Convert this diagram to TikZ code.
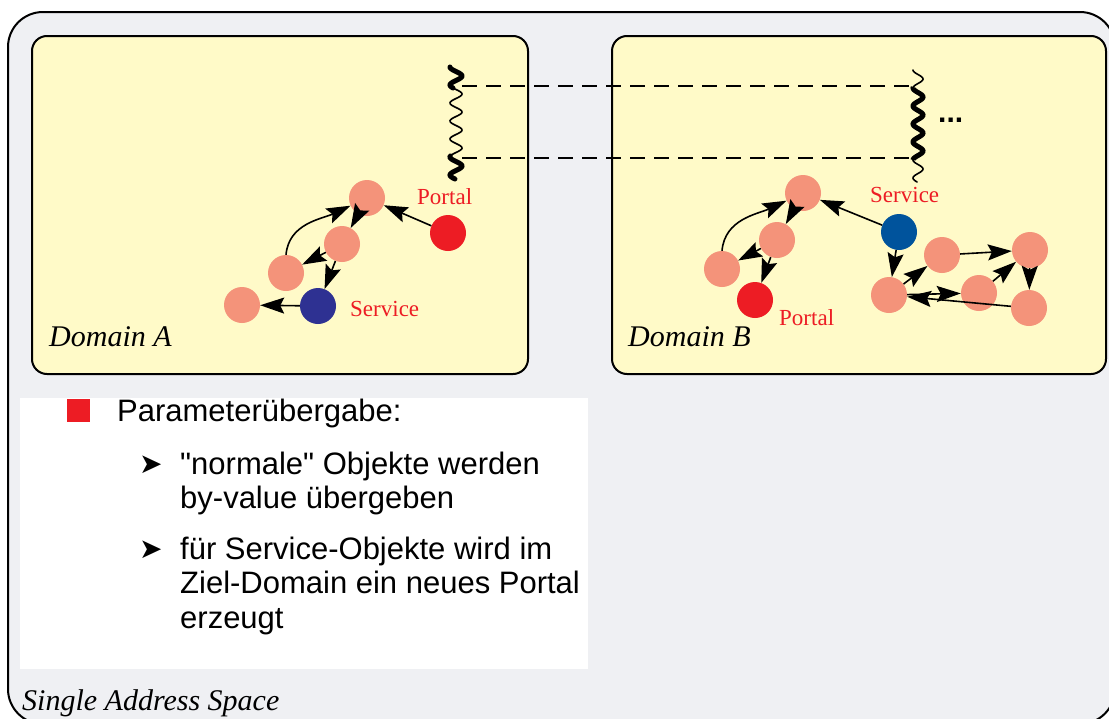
\documentclass[tikz,border=0pt]{standalone}
\usepackage{fontspec}
\setmainfont{Liberation Serif}
\setsansfont{Liberation Sans}
\newfontfamily\dejavu{DejaVu Sans}
\usetikzlibrary{arrows.meta}
\definecolor{bggray}{HTML}{EFF0F3}
\definecolor{domyel}{HTML}{FFFAC8}
\definecolor{salmon}{HTML}{F4937A}
\definecolor{portred}{HTML}{ED1C24}
\definecolor{servblueA}{HTML}{2E3192}
\definecolor{servblueB}{HTML}{00539C}
\tikzset{
  outerbox/.style={draw=black, line width=2pt, fill=bggray, rounded corners=35pt},
  domainbox/.style={draw=black, line width=2pt, fill=domyel, rounded corners=15pt},
  obj/.style={circle, minimum size=36pt, inner sep=0pt, fill=salmon},
  portalobj/.style={obj, fill=portred},
  servAobj/.style={obj, fill=servblueA},
  servBobj/.style={obj, fill=servblueB},
  conn/.style={-{Stealth[length=24pt,width=16pt,inset=4pt]}, line width=1.6pt},
  redlabel/.style={text=portred, font=\fontsize{23}{27}\selectfont, inner sep=0pt, anchor=base west},
  domlabel/.style={font=\itshape\fontsize{30}{34}\selectfont, inner sep=0pt, anchor=base west},
  bodytext/.style={font=\sffamily\fontsize{31}{35}\selectfont, inner sep=0pt, anchor=base west},
  bulletarrow/.style={font=\dejavu\fontsize{28}{32}\selectfont, inner sep=0pt, anchor=base west},
  dashline/.style={line width=2pt, dash pattern=on 15pt off 9pt},
  thickwave/.style={line width=5pt},
  thinwave/.style={line width=1.6pt}
}
\begin{document}
\begin{tikzpicture}[x=1pt,y=-1pt]
\useasboundingbox (0,0) rectangle (1109,718);
\begin{scope}
  \clip (0,0) rectangle (1109,718);
  \path[outerbox] (8,12) rectangle (1115,724);
\end{scope}
% domains
\path[domainbox] (32,36) rectangle (528,374);
\path[domainbox] (612,36) rectangle (1106,374);
% white text area
\fill[white] (20,398) rectangle (588,669);

% waves
\draw[thickwave, line cap=round] plot[variable=\t, domain=67:88, samples=30] ({456-6*cos(20*(\t-67))},{\t});
\draw[thinwave] plot[variable=\t, domain=88:156, samples=80] ({456-6*cos(20*(\t-67))},{\t});
\draw[thickwave, line cap=round] plot[variable=\t, domain=156:179, samples=30] ({456-6*cos(20*(\t-67))},{\t});

\draw[thinwave, line cap=round] plot[variable=\t, domain=70:87, samples=30] ({918-5*cos(20*(\t-70))},{\t});
\draw[thickwave] plot[variable=\t, domain=87:160, samples=80] ({918-5*cos(20*(\t-70))},{\t});
\draw[thinwave, line cap=round] plot[variable=\t, domain=160:182, samples=30] ({918-5*cos(20*(\t-70))},{\t});

\coordinate (wl1) at (462,86);
\coordinate (wr1) at (912,86);
\coordinate (wl2) at (462,158);
\coordinate (wr2) at (915,158);
\draw[dashline] (wl1) -- (wr1);
\draw[dashline] (wl2) -- (wr2);
\node[font=\sffamily\bfseries\fontsize{30}{34}\selectfont, inner sep=0pt, anchor=base west] (dots) at (938,122) {...};

% Domain A objects
\node[obj] (a1) at (367,198) {};
\node[obj] (a2) at (342,244) {};
\node[obj] (a3) at (286,273) {};
\node[obj] (a4) at (242,305) {};
\node[servAobj] (sa) at (318,306) {};
\node[portalobj] (pa) at (448,233) {};
\draw[conn] (pa) -- (a1);
\draw[conn] (a1) -- (a2);
\draw[conn] (a2) -- (a3);
\draw[conn] (a2) -- (sa);
\draw[conn] (sa) -- (a4);
\draw[conn] (a3.north) to[out=85,in=205] (a1);
\node[redlabel] (lpa) at (417,204) {Portal};
\node[redlabel] (lsa) at (350,316) {Service};
\node[domlabel] (lda) at (49,346) {Domain A};

% Domain B objects
\node[obj] (b1) at (803,193) {};
\node[obj] (b2) at (777,240) {};
\node[obj] (b3) at (722,269) {};
\node[portalobj] (pb) at (755,300) {};
\node[servBobj] (sb) at (899,232) {};
\node[obj] (b4) at (942,255) {};
\node[obj] (b5) at (1030,250) {};
\node[obj] (b6) at (889,295) {};
\node[obj] (b7) at (979,293) {};
\node[obj] (b8) at (1029,308) {};
\draw[conn] (sb) -- (b1);
\draw[conn] (b1) -- (b2);
\draw[conn] (b2) -- (b3);
\draw[conn] (b2) -- (pb);
\draw[conn] (b3.north) to[out=85,in=205] (b1);
\draw[conn] (sb) -- (b6);
\draw[conn] (b6) -- (b4);
\draw[conn] (b4) -- (b5);
\draw[conn] (b6) -- (b7);
\draw[conn] (b7) -- (b5);
\draw[conn] (b5) -- (b8);
\draw[conn] (b8) -- (b6);
\node[redlabel] (lsb) at (870,202) {Service};
\node[redlabel] (lpb) at (779,325) {Portal};
\node[domlabel] (ldb) at (628,346) {Domain B};

% text
\node[fill=portred, minimum size=23pt, inner sep=0pt] (sq) at (78.5,410.5) {};
\node[bodytext] (t0) at (117,421) {Parameterübergabe:};
\node[bulletarrow] (ar1) at (139,473) {➤};
\node[bodytext] (t1a) at (180,474) {\textquotedbl normale\textquotedbl{} Objekte werden};
\node[bodytext] (t1b) at (180,508.5) {by-value übergeben};
\node[bulletarrow] (ar2) at (139,558) {➤};
\node[bodytext] (t2a) at (180,559) {für Service-Objekte wird im};
\node[bodytext] (t2b) at (180,593.5) {Ziel-Domain ein neues Portal};
\node[bodytext] (t2c) at (180,628) {erzeugt};
\node[domlabel] (lsas) at (22,710) {Single Address Space};
\end{tikzpicture}
\end{document}
